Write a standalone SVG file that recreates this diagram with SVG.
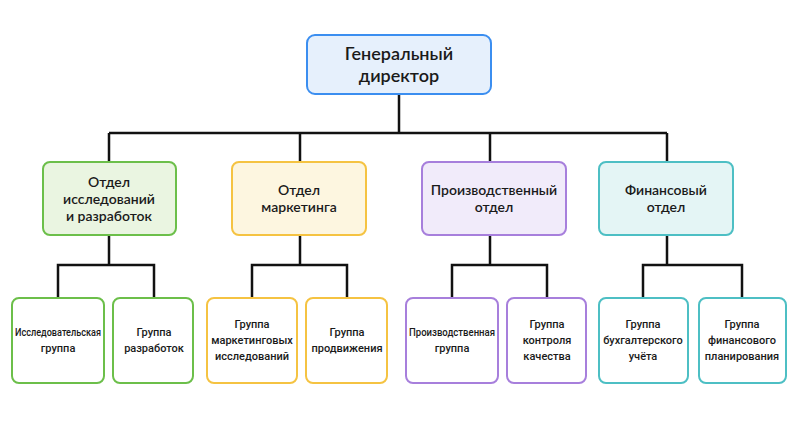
<svg xmlns="http://www.w3.org/2000/svg" width="800" height="439" viewBox="0 0 800 439">
<style>
text{font-family:Lato,"Noto Sans",sans-serif;fill:#1a1a1a;text-anchor:middle;font-weight:600}
.t{font-size:18px}.m{font-size:14px}.s{font-size:11px;font-family:Roboto,"Noto Sans",sans-serif;font-weight:500}
rect{stroke-width:2}
.bl{fill:#e6f0fc;stroke:#3b8ef0}.gr{fill:#eaf5e1;stroke:#6cbf4a}.ye{fill:#fdf6e0;stroke:#f5c342}.pu{fill:#f1ebfa;stroke:#a77fdc}.te{fill:#e4f5f5;stroke:#4dbfc4}
.gl{fill:#fff;stroke:#6cbf4a}.yl{fill:#fff;stroke:#f5c342}.pl{fill:#fff;stroke:#a77fdc}.tl{fill:#fff;stroke:#4dbfc4}
#c path{fill:none;stroke:#111;stroke-width:2.5}
</style>
<rect width="800" height="439" fill="#fff" stroke="none"/>
<g id="c">
<path d="M399 94V133M109 133H667M109 133V162M300 133V162M490 133V162M667 133V162"/>
<path d="M109 235V265M58 298V265H154V298"/>
<path d="M300 235V265M252 298V265H347V298"/>
<path d="M490 235V265M452 298V265H547V298"/>
<path d="M667 235V265M643 298V265H742V298"/>
</g>
<g id="ceo"><rect class="bl" x="307" y="35" width="184" height="59" rx="8"/><text class="t" x="399" y="60">Генеральный</text><text class="t" x="399" y="82">директор</text></g>
<g id="rd"><rect class="gr" x="43" y="162" width="133" height="73" rx="7"/><text class="m" x="109" y="187">Отдел</text><text class="m" x="109" y="204">исследований</text><text class="m" x="109" y="221">и разработок</text></g>
<g id="mk"><rect class="ye" x="232" y="162" width="134" height="73" rx="7"/><text class="m" x="299" y="195">Отдел</text><text class="m" x="299" y="212">маркетинга</text></g>
<g id="pr"><rect class="pu" x="422" y="162" width="144" height="73" rx="7"/><text class="m" x="494" y="195">Производственный</text><text class="m" x="494" y="212">отдел</text></g>
<g id="fn"><rect class="te" x="599" y="162" width="134" height="73" rx="7"/><text class="m" x="666" y="195">Финансовый</text><text class="m" x="666" y="212">отдел</text></g>
<g id="l1"><rect class="gl" x="12" y="298" width="92" height="85" rx="7"/><text class="s" x="58" y="336" textLength="86" lengthAdjust="spacingAndGlyphs">Исследовательская</text><text class="s" x="58" y="352">группа</text></g>
<g id="l2"><rect class="gl" x="113" y="298" width="80" height="85" rx="7"/><text class="s" x="154" y="336">Группа</text><text class="s" x="154" y="352">разработок</text></g>
<g id="l3"><rect class="yl" x="207" y="298" width="90" height="85" rx="7"/><text class="s" x="252" y="328">Группа</text><text class="s" x="252" y="344">маркетинговых</text><text class="s" x="252" y="360">исследований</text></g>
<g id="l4"><rect class="yl" x="306" y="298" width="81" height="85" rx="7"/><text class="s" x="347" y="336">Группа</text><text class="s" x="347" y="352">продвижения</text></g>
<g id="l5"><rect class="pl" x="406" y="298" width="92" height="85" rx="7"/><text class="s" x="452" y="336" textLength="86" lengthAdjust="spacingAndGlyphs">Производственная</text><text class="s" x="452" y="352">группа</text></g>
<g id="l6"><rect class="pl" x="507" y="298" width="79" height="85" rx="7"/><text class="s" x="547" y="328">Группа</text><text class="s" x="547" y="344">контроля</text><text class="s" x="547" y="360">качества</text></g>
<g id="l7"><rect class="tl" x="599" y="298" width="89" height="85" rx="7"/><text class="s" x="643" y="328">Группа</text><text class="s" x="643" y="344">бухгалтерского</text><text class="s" x="643" y="360">учёта</text></g>
<g id="l8"><rect class="tl" x="699" y="298" width="87" height="85" rx="7"/><text class="s" x="742" y="328">Группа</text><text class="s" x="742" y="344">финансового</text><text class="s" x="742" y="360">планирования</text></g>
</svg>
